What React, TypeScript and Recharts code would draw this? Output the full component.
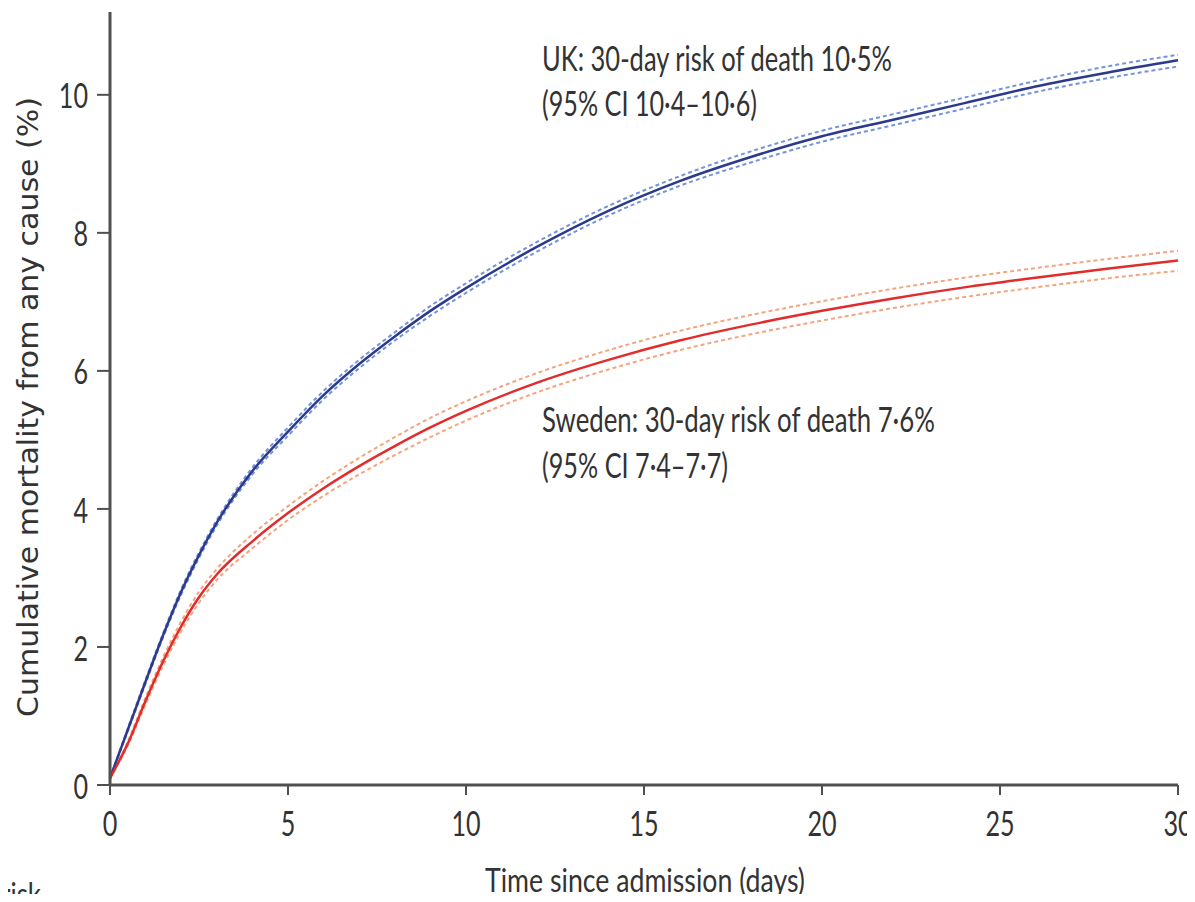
import { LineChart, Line, XAxis, YAxis, Customized } from 'recharts'

// days since admission, sampled along the curves
const days = [0, 0.5, 1, 1.5, 2, 2.5, 3, 4, 5, 6, 7, 8, 9, 10, 12, 14, 16, 18, 20, 22, 24, 26, 28, 30]

// UK cumulative mortality (%) with 95% CI
const ukRisk = [0.1, 0.8, 1.5, 2.18, 2.8, 3.33, 3.8, 4.55, 5.12, 5.65, 6.1, 6.5, 6.87, 7.2, 7.8, 8.32, 8.75, 9.1, 9.4, 9.64, 9.88, 10.12, 10.32, 10.5]
const ukLower = [0.1, 0.78, 1.47, 2.15, 2.76, 3.29, 3.76, 4.5, 5.06, 5.59, 6.04, 6.44, 6.8, 7.13, 7.73, 8.25, 8.68, 9.02, 9.32, 9.56, 9.8, 10.04, 10.24, 10.41]
const ukUpper = [0.1, 0.82, 1.53, 2.21, 2.84, 3.37, 3.84, 4.6, 5.18, 5.71, 6.16, 6.56, 6.94, 7.27, 7.87, 8.39, 8.82, 9.18, 9.48, 9.72, 9.96, 10.2, 10.41, 10.58]

// Sweden cumulative mortality (%) with 95% CI
const swedenRisk = [0.1, 0.6, 1.22, 1.8, 2.3, 2.72, 3.05, 3.53, 3.94, 4.3, 4.62, 4.91, 5.18, 5.42, 5.83, 6.16, 6.44, 6.67, 6.87, 7.05, 7.21, 7.35, 7.48, 7.6]
const swedenLower = [0.1, 0.57, 1.17, 1.74, 2.23, 2.64, 2.97, 3.43, 3.84, 4.19, 4.5, 4.78, 5.04, 5.28, 5.69, 6.02, 6.3, 6.53, 6.73, 6.91, 7.07, 7.21, 7.34, 7.45]
const swedenUpper = [0.1, 0.63, 1.27, 1.86, 2.37, 2.8, 3.13, 3.63, 4.04, 4.41, 4.74, 5.04, 5.32, 5.56, 5.97, 6.3, 6.58, 6.81, 7.01, 7.19, 7.35, 7.49, 7.62, 7.74]

const xTicks = [0, 5, 10, 15, 20, 25, 30]
const yTicks = [0, 2, 4, 6, 8, 10]

const data = days.map((day, i) => ({
  day,
  uk: ukRisk[i],
  ukLo: ukLower[i],
  ukHi: ukUpper[i],
  se: swedenRisk[i],
  seLo: swedenLower[i],
  seHi: swedenUpper[i],
}))

const NARROW = 'Lato, "Noto Sans", sans-serif'
const AXIS = '#505050'
const TEXT = '#333'

// condensed tick labels, the original uses a narrow face
function NarrowTick(props: any) {
  const { x, y, payload, textAnchor, orient } = props
  const dy = orient === 'bottom' ? '0.71em' : '0.4em'
  return (
    <g transform={`translate(${x},${y}) scale(0.74,1)`}>
      <text x={0} y={0} dy={dy} textAnchor={textAnchor} fill={TEXT} fontSize={34} fontFamily={NARROW}>
        {payload.value}
      </text>
    </g>
  )
}

function Annotations() {
  const fit = { lengthAdjust: 'spacingAndGlyphs' as const }
  return (
    <g fill={TEXT} fontFamily={NARROW}>
      <text x={542} y={71} fontSize={34} textLength={350} {...fit}>UK: 30-day risk of death 10·5%</text>
      <text x={542} y={116} fontSize={34} textLength={215} {...fit}>(95% CI 10·4–10·6)</text>
      <text x={542} y={432} fontSize={34} textLength={393} {...fit}>Sweden: 30-day risk of death 7·6%</text>
      <text x={542} y={478} fontSize={34} textLength={186} {...fit}>(95% CI 7·4–7·7)</text>
      <text x={485} y={892} fontSize={33} textLength={320} {...fit}>Time since admission (days)</text>
      <text x={1} y={906} fontSize={32} textLength={40} {...fit}>risk</text>
      <text
        x={38}
        y={407}
        fontSize={29}
        fontFamily='"DejaVu Sans", Verdana, sans-serif'
        textAnchor="middle"
        textLength={620}
        {...fit}
        transform="rotate(-90 38 407)"
      >
        Cumulative mortality from any cause (%)
      </text>
    </g>
  )
}

export default function App() {
  return (
    <div style={{ margin: -8, width: 1195, height: 902, background: '#fff' }}>
      <LineChart width={1195} height={902} data={data} margin={{ top: 12, right: 17, bottom: 0, left: 0 }}>
        <XAxis
          dataKey="day"
          type="number"
          domain={[0, 30]}
          ticks={xTicks}
          height={117}
          tickSize={10}
          tickMargin={27}
          axisLine={{ stroke: AXIS, strokeWidth: 3 }}
          tickLine={{ stroke: AXIS, strokeWidth: 2 }}
          tick={<NarrowTick />}
        />
        <YAxis
          type="number"
          domain={[0, 11.2]}
          ticks={yTicks}
          width={110}
          tickSize={13}
          tickMargin={9}
          axisLine={{ stroke: AXIS, strokeWidth: 3 }}
          tickLine={{ stroke: AXIS, strokeWidth: 2 }}
          tick={<NarrowTick />}
        />
        <Line dataKey="ukLo" type="monotone" stroke="#7393dc" strokeWidth={2} strokeDasharray="4 3" dot={false} isAnimationActive={false} />
        <Line dataKey="ukHi" type="monotone" stroke="#7393dc" strokeWidth={2} strokeDasharray="4 3" dot={false} isAnimationActive={false} />
        <Line dataKey="seLo" type="monotone" stroke="#f5a47e" strokeWidth={2} strokeDasharray="4 3" dot={false} isAnimationActive={false} />
        <Line dataKey="seHi" type="monotone" stroke="#f5a47e" strokeWidth={2} strokeDasharray="4 3" dot={false} isAnimationActive={false} />
        <Line dataKey="uk" type="monotone" stroke="#2b3a8c" strokeWidth={2.5} dot={false} isAnimationActive={false} />
        <Line dataKey="se" type="monotone" stroke="#e32b2b" strokeWidth={2.5} dot={false} isAnimationActive={false} />
        <Customized component={Annotations} />
      </LineChart>
    </div>
  )
}
